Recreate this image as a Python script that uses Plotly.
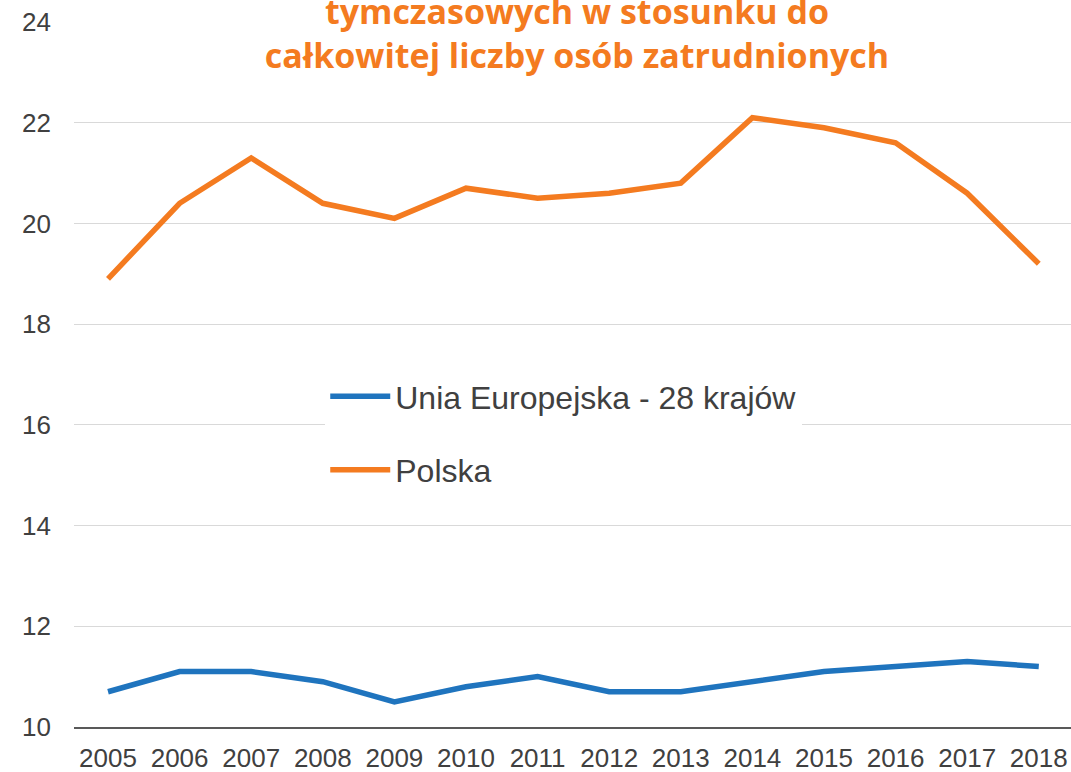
import plotly.graph_objects as go

years = ["2005", "2006", "2007", "2008", "2009", "2010", "2011",
         "2012", "2013", "2014", "2015", "2016", "2017", "2018"]
eu28 = [10.7, 11.1, 11.1, 10.9, 10.5, 10.8, 11.0, 10.7, 10.7, 10.9, 11.1, 11.2, 11.3, 11.2]
polska = [18.9, 20.4, 21.3, 20.4, 20.1, 20.7, 20.5, 20.6, 20.8, 22.1, 21.9, 21.6, 20.6, 19.2]
y_ticks = [10, 12, 14, 16, 18, 20, 22, 24]

title_text = "tymczasowych w stosunku do<br>całkowitej liczby osób zatrudnionych"

BLUE = "#1F74BE"
ORANGE = "#F47B20"
TXT = "#404040"

fig = go.Figure()
fig.add_trace(go.Scatter(x=years, y=eu28, mode="lines", name="Unia Europejska - 28 krajów",
                         line=dict(color=BLUE, width=5.5), legendgroup="a"))
fig.add_trace(go.Scatter(x=years, y=polska, mode="lines", name="Polska",
                         line=dict(color=ORANGE, width=5.5), legendgroup="b"))

fig.update_layout(
    width=1071, height=772,
    margin=dict(l=74, r=0, t=22, b=45),
    paper_bgcolor="white", plot_bgcolor="white",
    font=dict(family="Liberation Sans, Arial, sans-serif", color=TXT),
    showlegend=True,
    legend=dict(x=0.252, xanchor="left", y=0.508, yanchor="top",
                bgcolor="white", font=dict(size=32, color=TXT),
                tracegroupgap=29, traceorder="grouped", itemwidth=60),
    xaxis=dict(type="category", range=[-0.475, 13.45], showgrid=False,
               showline=True, linecolor="#595959", linewidth=2,
               ticks="", tickfont=dict(size=26, color=TXT), fixedrange=True,
               ticklabelstandoff=7),
    yaxis=dict(range=[10, 24], tickvals=y_ticks, showgrid=True, gridcolor="#D9D9D9",
               gridwidth=1, zeroline=False, showline=False, ticks="",
               tickfont=dict(size=26, color=TXT), ticklabelstandoff=22),
    annotations=[dict(text="<b>" + title_text + "</b>", xref="paper", yref="paper",
                      x=0.505, y=0.985, xanchor="center", yanchor="middle",
                      showarrow=False, bgcolor="white", width=700, borderpad=10,
                      font=dict(family="Open Sans, sans-serif", size=34, color=ORANGE))],
)

fig.write_html("out.html", post_script="document.body.style.margin='0';",
               config={"displayModeBar": False})
